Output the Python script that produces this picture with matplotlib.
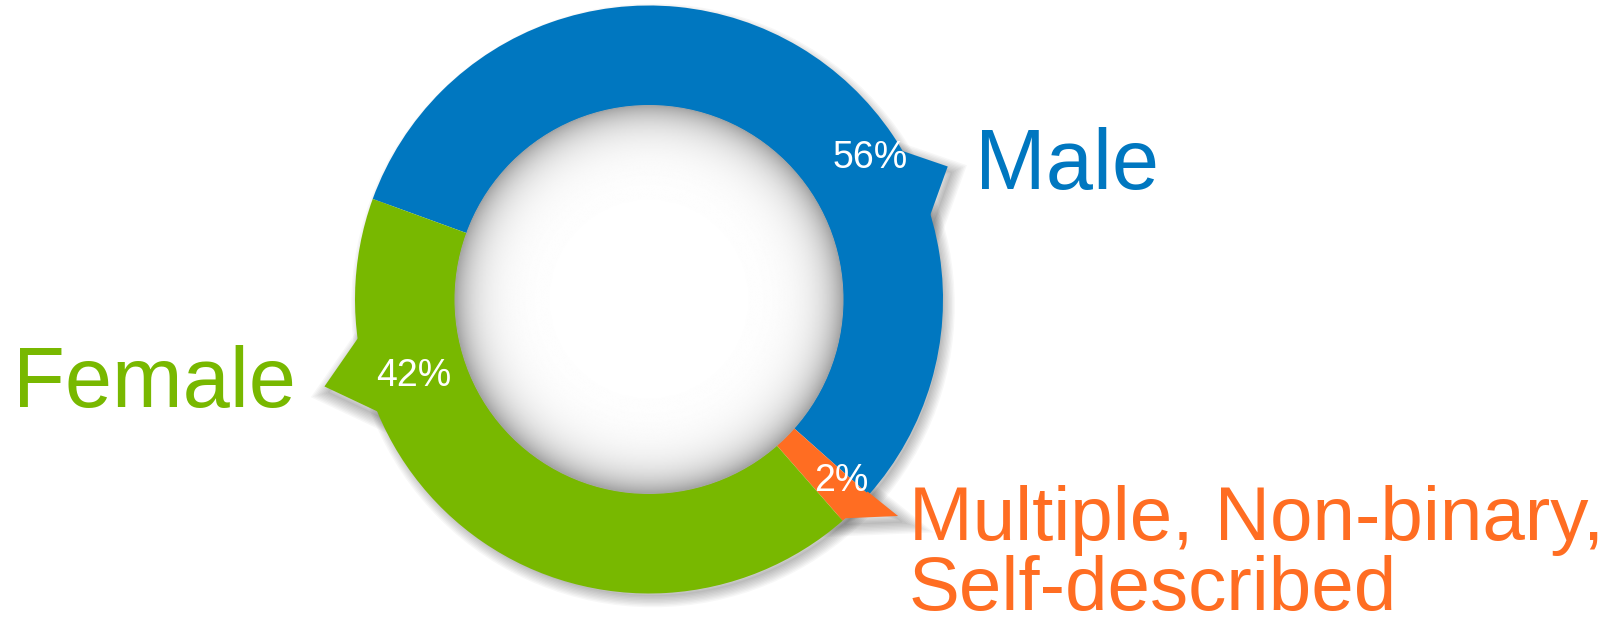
import numpy as np
import matplotlib.pyplot as plt
from matplotlib.patches import Circle, Polygon

# data
labels = ['Male', 'Multiple, Non-binary,', 'Female']
label2 = ['', 'Self-described', '']
shares = [56, 2, 42]
pct_labels = ['56%', '2%', '42%']
colors = ['#0077c0', '#ff6d22', '#78b800']

W, H = 1618, 626
cx, cy = 649, 326.5
R_out, R_in = 294, 194
start = 160

fig = plt.figure(figsize=(W / 100, H / 100), dpi=100)
ax = fig.add_axes([0, 0, 1, 1])

# wedge angle ranges (clockwise from start)
fr = np.array(shares) / sum(shares) * 360
ends = start - np.cumsum(fr)
begins = ends + fr


def pol(a, r):
    t = np.radians(a)
    return cx + r * np.cos(t), cy + r * np.sin(t)


# callout tails: (angle a, angle b, tip angle, tip radius)
tails = [(31, 16, 24, 327),
         (begins[1] + 0.3, ends[1], begins[1] + 0.6, 330),
         (187, 203, 195, 336)]


def tail_poly(a, b, ta, tr, rr):
    angs = np.linspace(a, b, 20)
    pts = [pol(g, rr) for g in angs]
    pts.append(pol(ta, tr))
    return np.array(pts)


# soft drop shadow, mostly right/below
off = np.array([4, -6])
for k in range(9):
    lw = 1 + k * 2.0
    al = 0.032
    ax.add_patch(Circle((cx + off[0], cy + off[1]), R_out - 4, facecolor='none',
                        edgecolor='#000000', lw=lw, alpha=al, zorder=1))
    for (a, b, ta, tr) in tails:
        p = tail_poly(a, b, ta, tr, R_out - 3) + off
        ax.add_patch(Polygon(p, closed=True, facecolor='none', edgecolor='#000000',
                             lw=lw, alpha=al, zorder=1))

wedges, _ = ax.pie(shares, colors=colors, startangle=start, counterclock=False,
                   radius=R_out, center=(cx, cy),
                   wedgeprops=dict(linewidth=0, zorder=2))

for (a, b, ta, tr), c in zip(tails, colors):
    ax.add_patch(Polygon(tail_poly(a, b, ta, tr, R_out - 3), closed=True,
                         facecolor=c, lw=0, zorder=2))

# inner white disc with inset shading
n = 500
xs = np.linspace(-1, 1, n)
X, Y = np.meshgrid(xs, xs)
rr = np.clip(np.sqrt(X ** 2 + Y ** 2), 0, 1)
val = 1 - 0.30 * rr ** 10 - 0.05 * rr ** 4
img = ax.imshow(val, cmap='gray', vmin=0, vmax=1, origin='lower',
                extent=(cx - R_in, cx + R_in, cy - R_in, cy + R_in), zorder=3,
                interpolation='bilinear')
disc = Circle((cx, cy), R_in, transform=ax.transData, facecolor='none', lw=0)
ax.add_patch(disc)
img.set_clip_path(disc)
ax.add_patch(Circle((cx, cy), R_in, facecolor='none', edgecolor='#a8a8a8', lw=0.7, zorder=4))

# percentage labels
pct_pos = [(32.6, 263), (-43.3, 264), (198, 247)]
for t, (a, r) in zip(pct_labels, pct_pos):
    x, y = pol(a, r)
    ax.text(x, y, t, color='white', fontsize=27, family='Liberation Sans',
            ha='center', va='center', zorder=5)

# category labels
ax.text(975, 437, labels[0], color=colors[0], fontsize=61, family='Liberation Sans',
        ha='left', va='baseline')
ax.text(13, 219, labels[2], color=colors[2], fontsize=61, family='Liberation Sans',
        ha='left', va='baseline')
ax.text(909, 86, labels[1], color=colors[1], fontsize=55, family='Liberation Sans',
        ha='left', va='baseline')
ax.text(909, 16, label2[1], color=colors[1], fontsize=55, family='Liberation Sans',
        ha='left', va='baseline')

ax.set_xlim(0, W)
ax.set_ylim(0, H)
ax.set_aspect('equal')
ax.axis('off')
fig.savefig('out.png', dpi=100)
